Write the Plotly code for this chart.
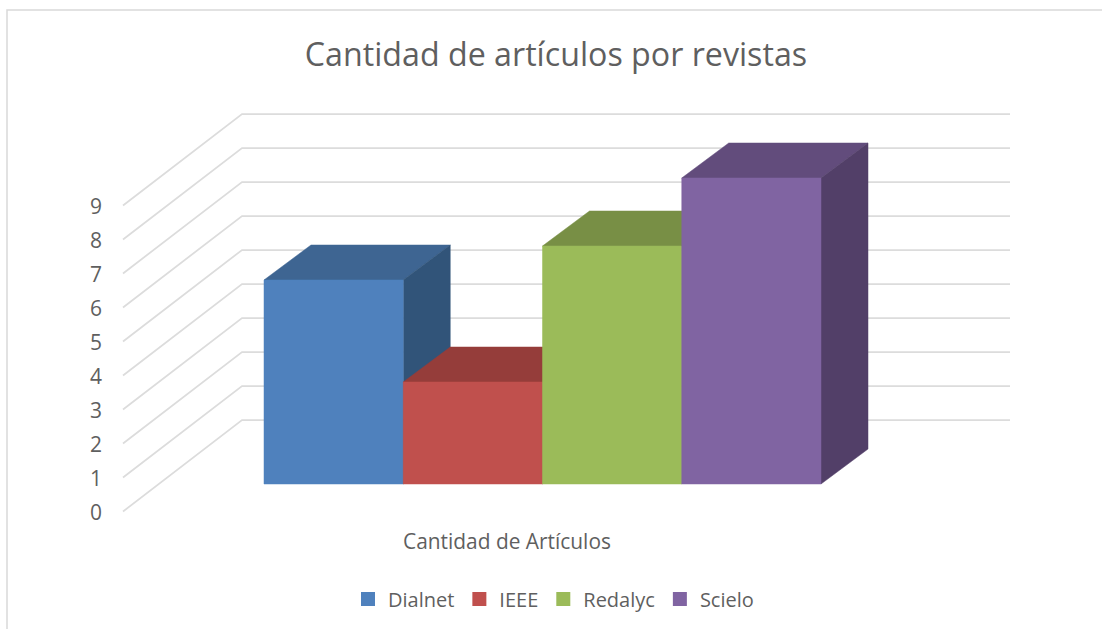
import plotly.graph_objects as go

title = "Cantidad de artículos por revistas"
category = "Cantidad de Artículos"
series = ["Dialnet", "IEEE", "Redalyc", "Scielo"]
values = [6, 3, 7, 9]
front_colors = ["#4F81BD", "#C0504D", "#9BBB59", "#8064A2"]
top_colors = ["#3E6592", "#953D3A", "#788F45", "#624C7C"]
side_colors = ["#315479", "#7E3230", "#647638", "#523F68"]
ticks = list(range(10))

W, H = 1102, 629
UX = 139.25      # px per bar
UY = 34.0        # px per value unit
X0, Y0 = 264, 484  # pixel of bar 0 front base
DX = 47 / UX     # bar depth, in axis units
DY = 35 / UY
WALL_L = (123 - X0) / UX
WALL_B = (242 - X0) / UX
WALL_R = (1010 - X0) / UX
WALL_FRONT = -27.5 / UY
WALL_BACK = 64 / UY
TEXT = "#5F5F5F"

fig = go.Figure()

# gridlines on the side and back walls
for t in ticks:
    fig.add_trace(go.Scatter(
        x=[WALL_L, WALL_B, WALL_R],
        y=[t + WALL_FRONT, t + WALL_BACK, t + WALL_BACK],
        mode="lines", line=dict(color="#DCDCDC", width=1.75),
        showlegend=False, hoverinfo="skip"))

# oblique bars, painted left to right
for i, (name, v) in enumerate(zip(series, values)):
    faces = [
        ([i, i + DX, i + 1 + DX, i + 1, i], [v, v + DY, v + DY, v, v], top_colors[i]),
        ([i + 1, i + 1 + DX, i + 1 + DX, i + 1, i + 1], [0, DY, v + DY, v, 0], side_colors[i]),
        ([i, i + 1, i + 1, i, i], [0, 0, v, v, 0], front_colors[i]),
    ]
    for fx, fy, col in faces:
        fig.add_trace(go.Scatter(
            x=fx, y=fy, mode="lines", fill="toself", fillcolor=col,
            line=dict(color=col, width=0.5),
            legendgroup=name, showlegend=False, name=name, hoverinfo="skip"))

# legend entries
for name, col in zip(series, front_colors):
    fig.add_trace(go.Scatter(
        x=[None], y=[None], mode="markers", name=name, legendgroup=name,
        marker=dict(symbol="square", size=14, color=col)))

# value axis tick labels, sitting at the front of the side wall
fig.add_trace(go.Scatter(x=[None], y=[None], yaxis="y2", showlegend=False, hoverinfo="skip"))

fig.update_layout(
    width=W, height=H, autosize=False,
    margin=dict(l=0, r=0, t=0, b=0),
    paper_bgcolor="white", plot_bgcolor="white",
    font=dict(family="Open Sans", color=TEXT, size=20),
    title=dict(text=title, x=556 / W, xanchor="center", y=1 - 55 / H, yanchor="middle",
               font=dict(size=32.2, color=TEXT)),
    xaxis=dict(range=[-X0 / UX, (W - X0) / UX], visible=False, domain=[0, 1]),
    yaxis=dict(range=[(Y0 - H) / UY, Y0 / UY], visible=False, domain=[0, 1]),
    yaxis2=dict(
        overlaying="y", anchor="free", position=102 / W, side="left",
        range=[(Y0 - H + 1) / UY - WALL_FRONT, (Y0 + 1) / UY - WALL_FRONT],
        tickmode="array", tickvals=ticks, ticktext=[str(t) for t in ticks],
        showgrid=False, zeroline=False, showline=False, ticks="",
        tickfont=dict(size=21, color=TEXT)),
    legend=dict(orientation="h", x=348 / W, xanchor="left", y=1 - 599 / H, yanchor="middle",
                font=dict(size=20, color=TEXT), bgcolor="rgba(0,0,0,0)",
                traceorder="normal"),
    annotations=[dict(text=category, xref="paper", yref="paper", x=507 / W, y=1 - 541 / H,
                      xanchor="center", yanchor="middle", showarrow=False,
                      font=dict(size=20.9, color=TEXT))],
    shapes=[dict(type="rect", xref="paper", yref="paper", x0=7 / W, x1=1.05, y0=-0.05,
                 y1=1 - 10 / H, line=dict(color="#D9D9D9", width=1.5), layer="below")],
)

fig.write_html("out.html", config={"displayModeBar": False},
               post_script="document.body.style.margin='0';")
